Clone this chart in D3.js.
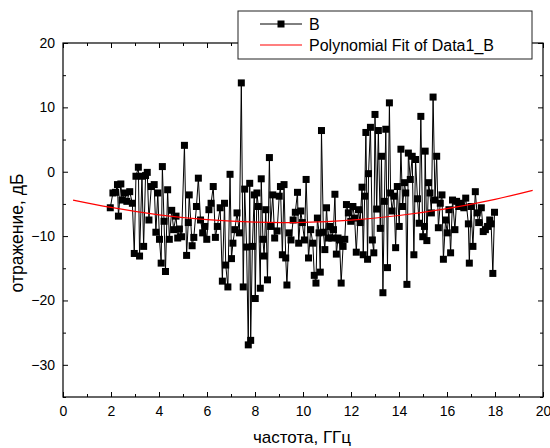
<!DOCTYPE html>
<html>
<head>
<meta charset="utf-8">
<script src="https://cdn.jsdelivr.net/npm/d3@7"></script>
<style>
  body { margin: 0; background: #fff; }
  svg { display: block; font-family: "Liberation Sans", Arial, sans-serif; }
</style>
</head>
<body>
<svg id="chart"></svg>
<script>
// measured series B (GHz, dB)
const freq = [1.97,2.08,2.19,2.27,2.31,2.41,2.46,2.56,2.66,2.78,2.89,2.97,3.04,3.14,3.19,3.29,3.36,3.44,3.51,3.58,
  3.68,3.80,3.87,3.95,4.02,4.09,4.14,4.21,4.27,4.36,4.43,4.53,4.61,4.71,4.78,4.85,4.94,5.06,5.15,5.22,
  5.26,5.38,5.45,5.56,5.64,5.73,5.82,5.91,5.99,6.08,6.17,6.26,6.35,6.43,6.55,6.64,6.73,6.78,6.87,6.96,
  7.02,7.08,7.16,7.25,7.35,7.43,7.51,7.57,7.65,7.72,7.78,7.82,7.89,7.97,8.01,8.08,8.14,8.22,8.26,8.33,
  8.38,8.45,8.52,8.60,8.65,8.74,8.82,8.92,9.01,9.06,9.14,9.21,9.28,9.33,9.42,9.50,9.59,9.68,9.77,9.82,
  9.91,9.97,10.06,10.13,10.23,10.32,10.41,10.47,10.54,10.60,10.67,10.72,10.77,10.85,10.91,10.98,11.05,11.11,11.20,11.27,
  11.33,11.39,11.46,11.52,11.59,11.67,11.74,11.81,11.89,11.99,12.08,12.15,12.22,12.31,12.38,12.46,12.51,12.57,12.62,12.69,
  12.73,12.81,12.89,12.95,13.00,13.07,13.14,13.22,13.27,13.33,13.39,13.45,13.52,13.60,13.65,13.71,13.79,13.86,13.93,14.01,
  14.08,14.15,14.23,14.28,14.33,14.39,14.47,14.55,14.62,14.69,14.77,14.84,14.91,14.99,15.06,15.09,15.16,15.23,15.29,15.35,
  15.42,15.50,15.57,15.64,15.72,15.79,15.85,15.94,16.01,16.08,16.15,16.23,16.33,16.40,16.49,16.59,16.70,16.78,16.89,16.93,
  17.00,17.08,17.18,17.25,17.32,17.43,17.51,17.60,17.69,17.78,17.84,17.91,17.98];
const refl = [-5.6,-3.3,-3.2,-2.0,-6.9,-1.9,-4.4,-3.3,-4.6,-3.1,-4.9,-12.7,-0.7,0.7,-13.1,-0.7,-11.6,-0.6,-0.1,-7.5,
  -2.3,-2.0,-9.4,-3.3,-10.5,-14.2,0.8,-7.7,-15.5,-2.8,-10.5,-6.0,-9.0,-6.9,-10.3,-8.9,-10.1,4.1,-13.0,-7.9,
  -3.6,-11.5,-10.2,-5.4,-1.0,-7.5,-9.5,-8.5,-10.5,-5.9,-4.9,-2.3,-10.2,-8.5,-5.6,-17.0,-4.9,-14.5,-17.9,-0.4,
  -13.5,-11.1,-9.0,-6.4,-9.5,13.8,-17.9,-2.7,-11.7,-26.9,-1.8,-26.2,-11.6,-3.6,-19.7,-3.3,-5.4,-18.1,-1.1,-10.5,
  -13.1,-5.9,-16.8,2.2,-8.5,-3.6,-10.3,-9.2,-3.8,-2.3,-12.9,-2.0,-13.4,-17.6,-9.5,-10.6,-7.5,-6.3,-3.2,-11.1,
  -6.1,-7.9,-10.6,-1.2,-13.4,-9.0,-11.1,-16.1,-17.3,-7.2,-9.5,-15.6,6.4,-9.4,-12.1,-5.6,-10.3,-8.5,-10.3,-9.0,
  -3.5,-12.8,-10.3,-10.6,-17.3,-11.6,-10.5,-5.1,-6.4,-7.7,-5.4,-7.2,-12.5,-5.9,-7.9,-2.4,-12.9,-3.8,6.1,-13.6,
  -0.3,6.9,-10.6,-12.6,8.9,-5.8,6.4,-8.8,2.4,-18.8,-4.6,6.6,-14.9,10.7,-3.3,-6.1,-3.8,-11.8,-2.3,-8.5,
  3.5,-5.4,-1.7,-3.3,-17.5,2.9,-1.2,2.4,-12.9,1.9,-4.2,-8.0,8.6,-10.1,-8.5,3.2,-10.7,-1.7,-3.3,-6.4,
  11.6,-4.4,2.4,-8.7,-4.9,-3.6,-13.6,-7.5,-9.5,-5.9,-12.6,-4.4,-9.0,-4.6,-5.4,-4.9,-5.6,-4.1,-8.1,-14.2,
  -5.4,-11.6,-3.1,-6.4,-7.9,-5.6,-9.3,-9.0,-8.5,-7.5,-8.1,-15.8,-6.3];

// polynomial fit curve
const fitX = [0.42, 2, 4, 6, 8, 10, 12, 14, 16, 18, 19.57];
const fitY = [-4.4, -5.55, -6.7, -7.45, -7.84, -7.87, -7.52, -6.8, -5.74, -4.3, -2.9];

const xTicks = [0, 2, 4, 6, 8, 10, 12, 14, 16, 18, 20];
const yTicks = [-30, -20, -10, 0, 10, 20];

const W = 550, H = 448;
const margin = { top: 43, right: 7, bottom: 51, left: 63 };
const width = W - margin.left - margin.right;
const height = H - margin.top - margin.bottom;

const svg = d3.select('#chart').attr('width', W).attr('height', H);
const g = svg.append('g').attr('transform', `translate(${margin.left},${margin.top})`);

const x = d3.scaleLinear().domain([0, 20]).range([0, width]);
const y = d3.scaleLinear().domain([-35, 20]).range([height, 0]);

// ticks, inward on all four sides
const minorX = d3.range(1, 20, 2);
const minorY = [-35, -25, -15, -5, 5, 15];

g.append('g').attr('transform', `translate(0,${height})`)
  .call(d3.axisBottom(x).tickValues(xTicks).tickSizeInner(-5).tickSizeOuter(0).tickPadding(9))
  .call(a => a.select('.domain').remove());
g.append('g').attr('transform', `translate(0,${height})`)
  .call(d3.axisBottom(x).tickValues(minorX).tickSizeInner(-3).tickSizeOuter(0).tickFormat(''))
  .call(a => a.select('.domain').remove());
g.append('g')
  .call(d3.axisTop(x).tickValues(xTicks).tickSizeInner(-5).tickSizeOuter(0).tickFormat(''))
  .call(a => a.select('.domain').remove());
g.append('g')
  .call(d3.axisTop(x).tickValues(minorX).tickSizeInner(-3).tickSizeOuter(0).tickFormat(''))
  .call(a => a.select('.domain').remove());

g.append('g')
  .call(d3.axisLeft(y).tickValues(yTicks).tickSizeInner(-5).tickSizeOuter(0).tickPadding(8))
  .call(a => a.select('.domain').remove());
g.append('g')
  .call(d3.axisLeft(y).tickValues(minorY).tickSizeInner(-3).tickSizeOuter(0).tickFormat(''))
  .call(a => a.select('.domain').remove());
g.append('g').attr('transform', `translate(${width},0)`)
  .call(d3.axisRight(y).tickValues(yTicks).tickSizeInner(-5).tickSizeOuter(0).tickFormat(''))
  .call(a => a.select('.domain').remove());
g.append('g').attr('transform', `translate(${width},0)`)
  .call(d3.axisRight(y).tickValues(minorY).tickSizeInner(-3).tickSizeOuter(0).tickFormat(''))
  .call(a => a.select('.domain').remove());

g.selectAll('.tick line').attr('stroke', '#000').attr('stroke-width', 1);
g.selectAll('.tick text').attr('font-size', 14).attr('fill', '#000')
  .attr('font-family', '"Liberation Sans", Arial, sans-serif');

// frame
g.append('rect')
  .attr('width', width).attr('height', height)
  .attr('fill', 'none').attr('stroke', '#000').attr('stroke-width', 1.2);

// series B
const line = d3.line().x(d => x(d[0])).y(d => y(d[1]));
const pts = freq.map((f, i) => [f, refl[i]]);

g.append('path')
  .datum(pts)
  .attr('d', line)
  .attr('fill', 'none')
  .attr('stroke', '#000')
  .attr('stroke-width', 1);

g.append('g').selectAll('rect')
  .data(pts)
  .join('rect')
  .attr('x', d => x(d[0]) - 3.5)
  .attr('y', d => y(d[1]) - 3.5)
  .attr('width', 7).attr('height', 7)
  .attr('fill', '#000');

// fit curve
const fitLine = d3.line().x(d => x(d[0])).y(d => y(d[1])).curve(d3.curveNatural);
g.append('path')
  .datum(fitX.map((f, i) => [f, fitY[i]]))
  .attr('d', fitLine)
  .attr('fill', 'none')
  .attr('stroke', '#ff0000')
  .attr('stroke-width', 1.2);

// axis titles
svg.append('text')
  .attr('x', margin.left + width / 2 - 1).attr('y', 443)
  .attr('text-anchor', 'middle').attr('font-size', 17)
  .text('частота, ГГц');
svg.append('text')
  .attr('transform', `translate(23,${margin.top + 190}) rotate(-90)`)
  .attr('text-anchor', 'middle').attr('font-size', 17.5)
  .text('отражение, дБ');

// legend
const lg = svg.append('g').attr('transform', 'translate(238,11)');
lg.append('rect')
  .attr('width', 294).attr('height', 48)
  .attr('fill', '#fff').attr('stroke', '#222').attr('stroke-width', 1);
lg.append('line').attr('x1', 22).attr('x2', 64).attr('y1', 13).attr('y2', 13)
  .attr('stroke', '#000').attr('stroke-width', 1);
lg.append('rect').attr('x', 39.5).attr('y', 9.5).attr('width', 7).attr('height', 7).attr('fill', '#000');
lg.append('text').attr('x', 71).attr('y', 19).attr('font-size', 16).text('B');
lg.append('line').attr('x1', 22).attr('x2', 64).attr('y1', 34).attr('y2', 34)
  .attr('stroke', '#ff0000').attr('stroke-width', 1.2);
lg.append('text').attr('x', 71).attr('y', 40).attr('font-size', 16).text('Polynomial Fit of Data1_B');
</script>
</body>
</html>
